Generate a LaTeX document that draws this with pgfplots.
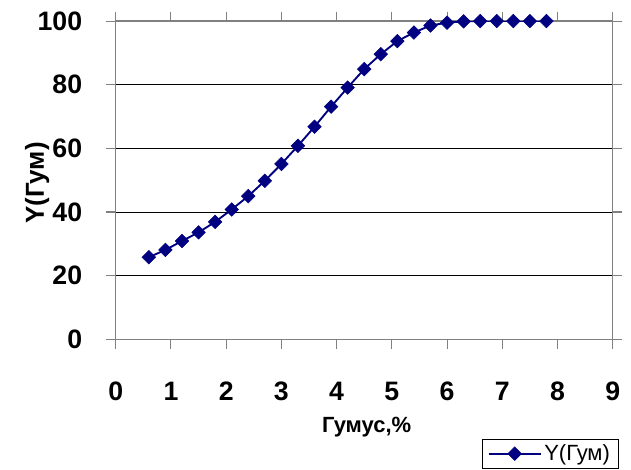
\documentclass[border=0pt]{standalone}
\usepackage{pgfplots}
\pgfplotsset{compat=1.18}
\usepackage{fontspec}
\setmainfont{Liberation Sans}

\definecolor{series}{RGB}{0,0,128}
\definecolor{frame}{RGB}{128,128,128}

\pgfplotstableread{
x    y
0.6  25.8
0.9  28.1
1.2  30.9
1.5  33.6
1.8  36.9
2.1  40.8
2.4  45.0
2.7  49.8
3.0  55.1
3.3  60.8
3.6  66.8
3.9  73.1
4.2  79.1
4.5  84.9
4.8  89.6
5.1  93.7
5.4  96.4
5.7  98.6
6.0  99.5
6.3  99.9
6.6  100
6.9  100
7.2  100
7.5  100
7.8  100
}\humus

\begin{document}
\begin{tikzpicture}
\path[use as bounding box] (-86.8pt,-98pt) rectangle ++(473.25pt,352.5pt);
\begin{axis}[
  at={(0,0)}, anchor=south west,
  scale only axis,
  width=372.75pt, height=238.7pt,
  xmin=0, xmax=9, ymin=0, ymax=100,
  xtick={0,1,...,9}, ytick={0,20,...,100},
  tick align=outside,
  major tick length=7pt,
  tick style={frame, line width=0.8pt},
  axis line style={frame, line width=1pt},
  ymajorgrids,
  grid style={black, line width=0.6pt},
  /pgf/number format/assume math mode=true,
  ticklabel style={font=\fontsize{20}{21}\selectfont\bfseries, inner sep=0pt},
  yticklabel style={anchor=east, xshift=-18pt},
  xticklabel style={anchor=north, yshift=-25pt},
  xlabel={Гумус,\%},
  ylabel={Y(Гум)},
  xlabel style={font=\fontsize{16.5}{18}\selectfont\bfseries,
    at={(axis description cs:0.505,-0.2755)}, anchor=center},
  ylabel style={font=\fontsize{19.5}{21}\selectfont\bfseries,
    at={(axis description cs:-0.158,0.491)}, anchor=center},
  legend style={
    at={(axis description cs:0.737,-0.313)}, anchor=north west,
    font=\fontsize{16.5}{18}\selectfont,
    draw=black, line width=0.6pt,
    inner xsep=4pt, inner ysep=2pt,
    text depth=14pt,
  },
  legend image code/.code={
    \draw[mark repeat=2, mark phase=2]
      plot coordinates {(0pt,0pt) (19.5pt,0pt) (39pt,0pt)};
  },
]
\addplot[series, line width=1.4pt,
  mark=square*, mark size=3.6pt,
  mark options={rotate=45, fill=series, draw=series, line width=0.4pt}]
  table[x=x, y=y] {\humus};
\addlegendentry{Y(Гум)}
\end{axis}
\end{tikzpicture}
\end{document}
